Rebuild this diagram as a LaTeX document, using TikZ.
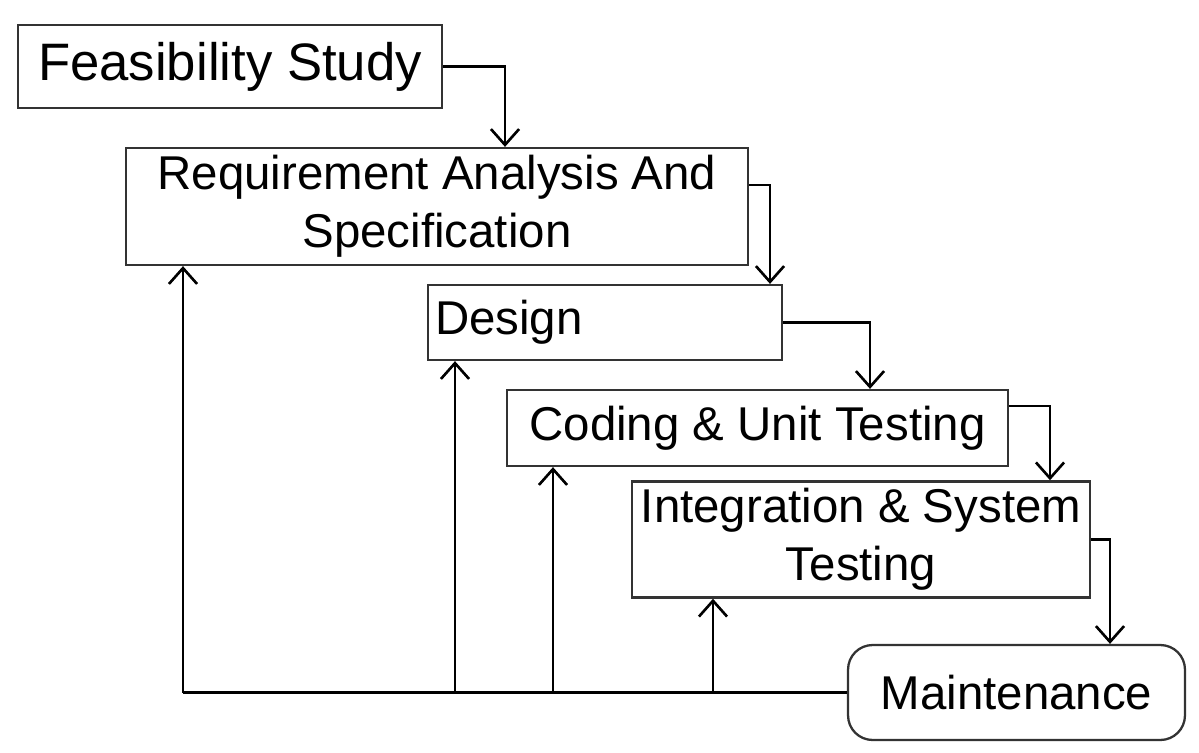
\documentclass[tikz,border=0pt]{standalone}
\usepackage{fontspec}
\setmainfont{Liberation Sans}
\usetikzlibrary{arrows.meta,calc}
\begin{document}
\begin{tikzpicture}[x=0.02cm,y=-0.02cm,
  stage/.style={draw=black!80, line width=1.3pt, rectangle, inner sep=4pt,
    font=\fontsize{27}{33}\selectfont, align=center},
  flow/.style={line width=1.5pt, -{Straight Barb[length=9pt,width=16pt,line width=1.5pt]}},
  link/.style={line width=1.5pt}]
\useasboundingbox (0,0) rectangle (1199,753);

% the six phases, stepping down to the right
\node[stage, minimum width=8.48cm, minimum height=1.66cm, font=\fontsize{30}{36}\selectfont] (feas) at (230,66.5) {Feasibility Study};
\node[stage, minimum width=12.44cm, minimum height=2.34cm] (req) at (437,206.5) {Requirement Analysis And\\Specification};
\node[stage, text width=6.8cm, align=left, minimum height=1.5cm] (design) at (605,322.5) {Design};
\node[stage, minimum width=10.02cm, minimum height=1.52cm] (coding) at (757.5,428) {Coding \& Unit Testing};
\node[stage, minimum width=9.16cm, minimum height=2.1cm] (integ) at (861,539.5) {Integration \& System\\Testing};
\node[stage, minimum width=6.74cm, minimum height=1.9cm, rounded corners=14pt] (maint) at (1016.5,692.5) {Maintenance};

% columns of the downward hand-offs
\coordinate (d1) at (505,0);
\coordinate (d2) at (770,0);
\coordinate (d3) at (870,0);
\coordinate (d4) at (1050,0);
\coordinate (d5) at (1110,0);

\draw[flow] (feas.east) -| (d1 |- req.north);
\draw[flow] ($(req.north east)!0.32!(req.south east)$) -| (d2 |- design.north);
\draw[flow] (design.east) -| (d3 |- coding.north);
\draw[flow] ($(coding.north east)!0.22!(coding.south east)$) -| (d4 |- integ.north);
\draw[flow] (integ.east) -| (d5 |- maint.north);

% feedback paths from maintenance back to earlier phases
\coordinate (u1) at (183,0);
\coordinate (u2) at (455,0);
\coordinate (u3) at (553,0);
\coordinate (u4) at (713,0);

\draw[link] (maint.west) -- (u1 |- maint.west);
\draw[flow] (u1 |- maint.west) -- (u1 |- req.south);
\draw[flow] (u2 |- maint.west) -- (u2 |- design.south);
\draw[flow] (u3 |- maint.west) -- (u3 |- coding.south);
\draw[flow] (u4 |- maint.west) -- (u4 |- integ.south);
\end{tikzpicture}
\end{document}
